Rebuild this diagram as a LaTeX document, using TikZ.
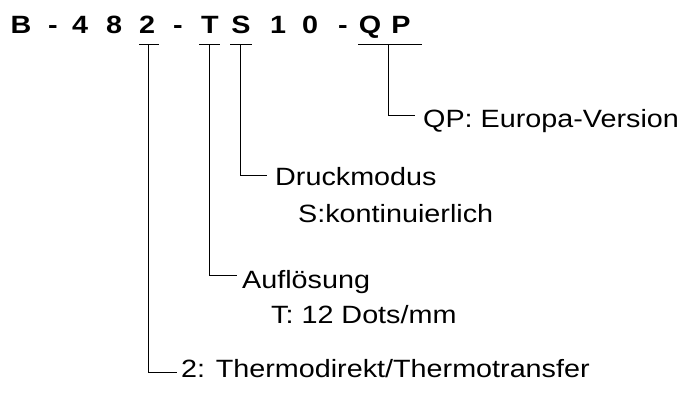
\documentclass[tikz,border=0pt]{standalone}
\usepackage{fontspec}
\usepackage{graphicx}
\setmainfont{Liberation Sans}
\newcommand{\wide}[1]{\scalebox{1.15}[1]{#1}}
\tikzset{
  code/.style={inner sep=0pt, anchor=base, font=\fontsize{25}{30}\selectfont\bfseries},
  desc/.style={inner sep=0pt, anchor=base west, font=\fontsize{25}{30}\selectfont},
  conn/.style={line width=1pt, black},
}
\begin{document}
\begin{tikzpicture}[x=1pt,y=-1pt]
\useasboundingbox (0,0) rectangle (689,392);
% code letters
\node[code] (cB)  at (21,33)  {\wide{B}};
\node[code] (d1)  at (53,33)  {\wide{-}};
\node[code] (c4)  at (80,33)  {\wide{4}};
\node[code] (c8)  at (114,33) {\wide{8}};
\node[code] (c2)  at (147,33) {\wide{2}};
\node[code] (d2)  at (178,33) {\wide{-}};
\node[code] (cT)  at (210,33) {\wide{T}};
\node[code] (cS)  at (241,33) {\wide{S}};
\node[code] (c1)  at (278,33) {\wide{1}};
\node[code] (c0)  at (310,33) {\wide{0}};
\node[code] (d3)  at (343,33) {\wide{-}};
\node[code] (cQ)  at (370,33) {\wide{Q}};
\node[code] (cP)  at (401,33) {\wide{P}};
% underline coordinates
\coordinate (l2a) at (139,44); \coordinate (l2b) at (159,44); \coordinate (u2) at (148,44);
\coordinate (lTa) at (199,44); \coordinate (lTb) at (220,44); \coordinate (uT) at (209,44);
\coordinate (lSa) at (230,44); \coordinate (lSb) at (252,44); \coordinate (uS) at (240,44);
\coordinate (lQa) at (358,44); \coordinate (lQb) at (422,44); \coordinate (uQ) at (388,44);
\draw[conn] (l2a) -- (l2b);
\draw[conn] (lTa) -- (lTb);
\draw[conn] (lSa) -- (lSb);
\draw[conn] (lQa) -- (lQb);
% descriptions
\node[desc] (tQ)  at (423,127) {\wide{QP: Europa-Version}};
\node[desc] (tS)  at (275,185) {\wide{Druckmodus}};
\node[desc] (tS2) at (298,222) {\wide{S:kontinuierlich}};
\node[desc] (tT)  at (242,288) {\wide{Auflösung}};
\node[desc] (tT2) at (271,323) {\wide{T: 12 Dots/mm}};
\node[desc] (t2)  at (181,377) {\wide{2: Thermodirekt/Thermotransfer}};
% connector ends
\coordinate (eQ) at (415,115);
\coordinate (eS) at (267,175);
\coordinate (eT) at (237,275);
\coordinate (e2) at (177,372);
\draw[conn] (uQ) |- (eQ);
\draw[conn] (uS) |- (eS);
\draw[conn] (uT) |- (eT);
\draw[conn] (u2) |- (e2);
\end{tikzpicture}
\end{document}
